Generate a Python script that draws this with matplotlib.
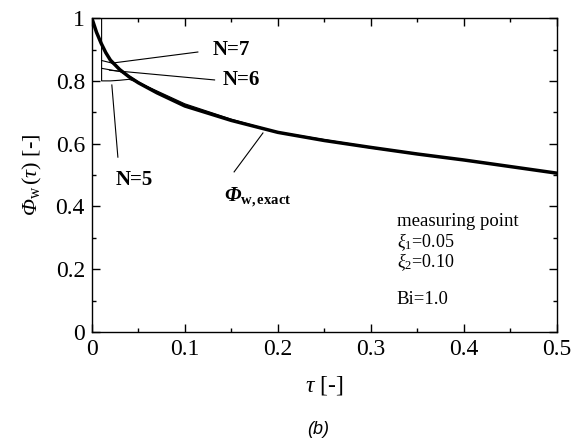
import numpy as np
import matplotlib
matplotlib.use('Agg')
import matplotlib.pyplot as plt
from matplotlib.ticker import MultipleLocator

plt.rcParams['font.family'] = ['Liberation Serif', 'DejaVu Serif']
plt.rcParams['mathtext.fontset'] = 'custom'
plt.rcParams['mathtext.rm'] = 'Liberation Serif'
plt.rcParams['mathtext.it'] = 'Liberation Serif:italic'
plt.rcParams['mathtext.sf'] = 'Liberation Serif:italic'   # used for italic capital Greek
plt.rcParams['mathtext.bf'] = 'Liberation Serif:bold'
plt.rcParams['mathtext.bfit'] = 'Liberation Serif:bold:italic'

# exact solution
tau_exact = [0, 0.005, 0.01, 0.015, 0.02, 0.03, 0.04, 0.05, 0.07, 0.1,
             0.15, 0.2, 0.25, 0.3, 0.35, 0.4, 0.45, 0.5]
phi_exact = [1.0, 0.955, 0.92, 0.89, 0.866, 0.836, 0.813, 0.794, 0.762, 0.72,
             0.674, 0.636, 0.61, 0.588, 0.567, 0.548, 0.527, 0.506]

# approximations
tau_n5 = [0.0105, 0.0105, 0.02, 0.03, 0.04, 0.05, 0.07, 0.1, 0.15, 0.2, 0.3, 0.4, 0.5]
phi_n5 = [1.0, 0.80, 0.80, 0.802, 0.805, 0.795, 0.768, 0.727, 0.678, 0.636, 0.586, 0.549, 0.505]
tau_n6 = [0.0105, 0.02, 0.03, 0.04, 0.05, 0.07, 0.1, 0.15, 0.2, 0.3, 0.4, 0.5]
phi_n6 = [0.84, 0.835, 0.83, 0.816, 0.797, 0.765, 0.724, 0.676, 0.637, 0.589, 0.548, 0.507]
tau_n7 = [0.0105, 0.02, 0.025, 0.03, 0.04, 0.05, 0.07, 0.1, 0.15, 0.2, 0.3, 0.4, 0.5]
phi_n7 = [0.865, 0.858, 0.852, 0.838, 0.814, 0.795, 0.763, 0.721, 0.675, 0.636, 0.588, 0.548, 0.506]

xticks = [0, 0.1, 0.2, 0.3, 0.4, 0.5]
xticklabels = ['0', '0.1', '0.2', '0.3', '0.4', '0.5']
yticks = [0, 0.2, 0.4, 0.6, 0.8, 1.0]
yticklabels = ['0', '0.2', '0.4', '0.6', '0.8', '1']

fig = plt.figure(figsize=(5.74, 4.42), dpi=100)
ax = fig.add_axes([0.160, 0.249, 0.810, 0.710])

ax.plot(tau_n5, phi_n5, color='black', lw=0.8)
ax.plot(tau_n6, phi_n6, color='black', lw=0.8)
ax.plot(tau_n7, phi_n7, color='black', lw=0.8)
ax.plot(tau_exact, phi_exact, color='black', lw=2.5)

ax.set_xlim(0, 0.5)
ax.set_ylim(0, 1)
ax.set_xticks(xticks)
ax.set_xticklabels(xticklabels)
ax.set_yticks(yticks)
ax.set_yticklabels(yticklabels)
ax.xaxis.set_minor_locator(MultipleLocator(0.05))
ax.yaxis.set_minor_locator(MultipleLocator(0.1))
ax.tick_params(which='both', direction='in', top=True, right=True, width=1.0)
ax.tick_params(which='major', length=6, labelsize=17, pad=5)
ax.tick_params(which='minor', length=3)
for s in ax.spines.values():
    s.set_linewidth(1.0)

ax.set_xlabel(r'$\tau$ [-]', fontsize=17, labelpad=10)
ax.set_ylabel(r'$\mathsf{\Phi}_{\mathrm{w}}\,(\tau)$ [-]', fontsize=16, labelpad=8)

# labels with leader lines
ax.plot([0.0226, 0.114], [0.857, 0.892], color='black', lw=0.8)
ax.text(0.150, 0.898, 'N=7', fontsize=15, fontweight='bold', ha='center', va='center')
ax.plot([0.019, 0.132], [0.834, 0.803], color='black', lw=0.8)
ax.text(0.161, 0.803, 'N=6', fontsize=15, fontweight='bold', ha='center', va='center')
ax.plot([0.0215, 0.028], [0.787, 0.557], color='black', lw=0.8)
ax.text(0.046, 0.484, 'N=5', fontsize=15, fontweight='bold', ha='center', va='center')
ax.plot([0.184, 0.153], [0.634, 0.51], color='black', lw=0.8)
ax.text(0.178, 0.43, r'$\mathbfit{\Phi}_{\mathbf{w,exact}}$', fontsize=15,
        ha='center', va='center')

ax.text(0.328, 0.352, 'measuring point', fontsize=13.5, va='center')
ax.text(0.328, 0.285, r'$\xi_1$=0.05', fontsize=13, va='center')
ax.text(0.328, 0.222, r'$\xi_2$=0.10', fontsize=13, va='center')
ax.text(0.328, 0.102, 'Bi=1.0', fontsize=13.5, va='center')

fig.text(318 / 574, 1 - 430 / 442, '(b)', fontsize=13, family='Liberation Sans',
         style='italic', ha='center', va='center')

fig.savefig('out.png', dpi=100)
